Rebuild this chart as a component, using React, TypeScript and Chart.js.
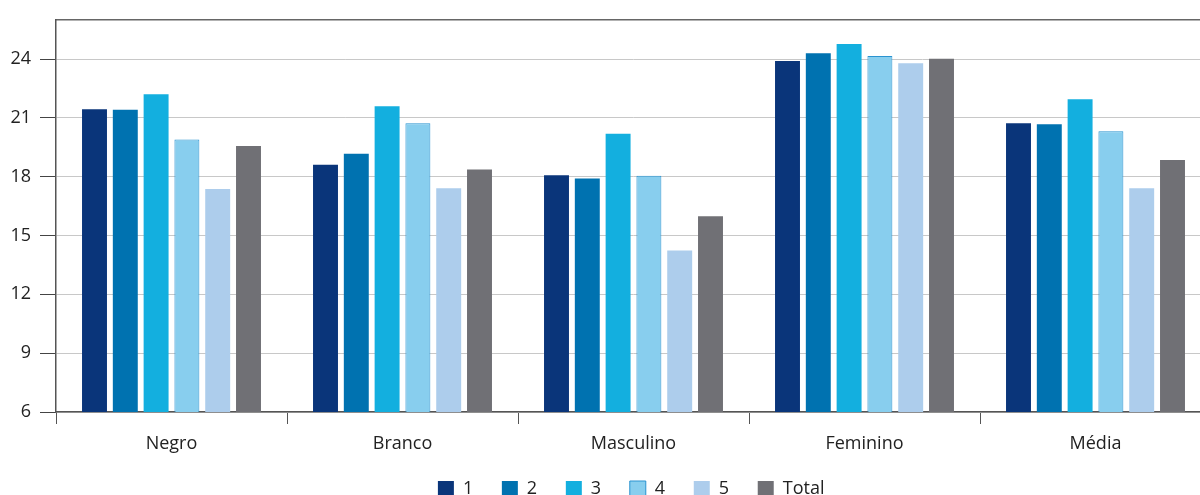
import React, { useEffect, useRef } from "react";
import Chart from "chart.js/auto";

const categories = ["Negro", "Branco", "Masculino", "Feminino", "Média"];
const seriesLabels = ["1", "2", "3", "4", "5", "Total"];
const series1 = [21.44, 18.61, 18.07, 23.9, 20.73];
const series2 = [21.41, 19.17, 17.91, 24.29, 20.68];
const series3 = [22.2, 21.59, 20.19, 24.76, 21.95];
const series4 = [19.9, 20.73, 18.05, 24.15, 20.32];
const series5 = [17.37, 17.41, 14.24, 23.78, 17.41];
const seriesTotal = [19.56, 18.37, 15.98, 24.02, 18.85];
const yTicks = [6, 9, 12, 15, 18, 21, 24];

const FONT = "'Open Sans', 'Noto Sans', sans-serif";

export default function App() {
  const ref = useRef<HTMLCanvasElement | null>(null);
  useEffect(() => {
    if (!ref.current) return;
    const values = [series1, series2, series3, series4, series5, seriesTotal];
    const fills = ["#0a357a", "#0072b0", "#13afdf", "#88ceee", "#adcdec", "#707075"];
    const borders = ["#0a357a", "#0072b0", "#13afdf", "#2a93d0", "#adcdec", "#707075"];
    const chart = new Chart(ref.current, {
      type: "bar",
      data: {
        labels: categories,
        datasets: values.map((v, i) => ({
          label: seriesLabels[i],
          data: v,
          backgroundColor: fills[i],
          borderColor: borders[i],
          borderWidth: i === 3 ? 1 : 0,
          categoryPercentage: 0.8,
          barPercentage: 0.81,
        })),
      },
      options: {
        animation: false,
        responsive: false,
        devicePixelRatio: 1,
        layout: { padding: { top: 17, right: 51, left: 0, bottom: 0 } },
        plugins: {
          tooltip: { enabled: false },
          legend: {
            position: "bottom",
            fullSize: false,
            labels: {
              boxWidth: 16,
              boxHeight: 16,
              padding: 24,
              color: "#222",
              font: { family: FONT, size: 18 },
              generateLabels: (ch: any) => {
                const items = Chart.defaults.plugins.legend.labels.generateLabels(ch);
                return items.map((it: any) => ({ ...it, text: it.text + " " }));
              },
            },
          },
        },
        scales: {
          x: {
            type: "category",
            offset: true,
            grid: {
              display: true,
              drawOnChartArea: false,
              drawTicks: true,
              tickLength: 12,
              tickColor: "#555",
              offset: true,
            },
            border: { display: true, color: "#555", width: 1.5 },
            ticks: {
              color: "#222",
              padding: 11,
              maxRotation: 0,
              font: { family: FONT, size: 18, lineHeight: 1 },
            },
            afterFit: (axis: any) => {
              axis.height = 44;
            },
          },
          x2: {
            type: "category",
            position: "top",
            labels: categories,
            grid: { display: false, drawTicks: false },
            border: { display: true, color: "#666", width: 1.5 },
            ticks: { display: false },
            afterFit: (axis: any) => {
              axis.height = 0;
            },
          },
          y: {
            min: 6,
            max: 26,
            afterBuildTicks: (axis: any) => {
              axis.ticks = yTicks.map((v) => ({ value: v }));
            },
            grid: {
              color: "#c8c8c8",
              lineWidth: 1,
              drawTicks: true,
              tickLength: 16,
              tickColor: "#444",
            },
            border: { display: true, color: "#555", width: 1.5 },
            ticks: {
              color: "#222",
              padding: 9,
              font: { family: FONT, size: 18 },
            },
            afterFit: (axis: any) => {
              axis.width = 56;
            },
          },
        },
      },
    } as any);
    return () => chart.destroy();
  }, []);
  return (
    <div
      style={{
        position: "absolute",
        left: 0,
        top: 0,
        width: 1200,
        height: 495,
        overflow: "hidden",
        background: "#fff",
      }}
    >
      <canvas ref={ref} width={1262} height={508} style={{ display: "block" }} />
    </div>
  );
}
